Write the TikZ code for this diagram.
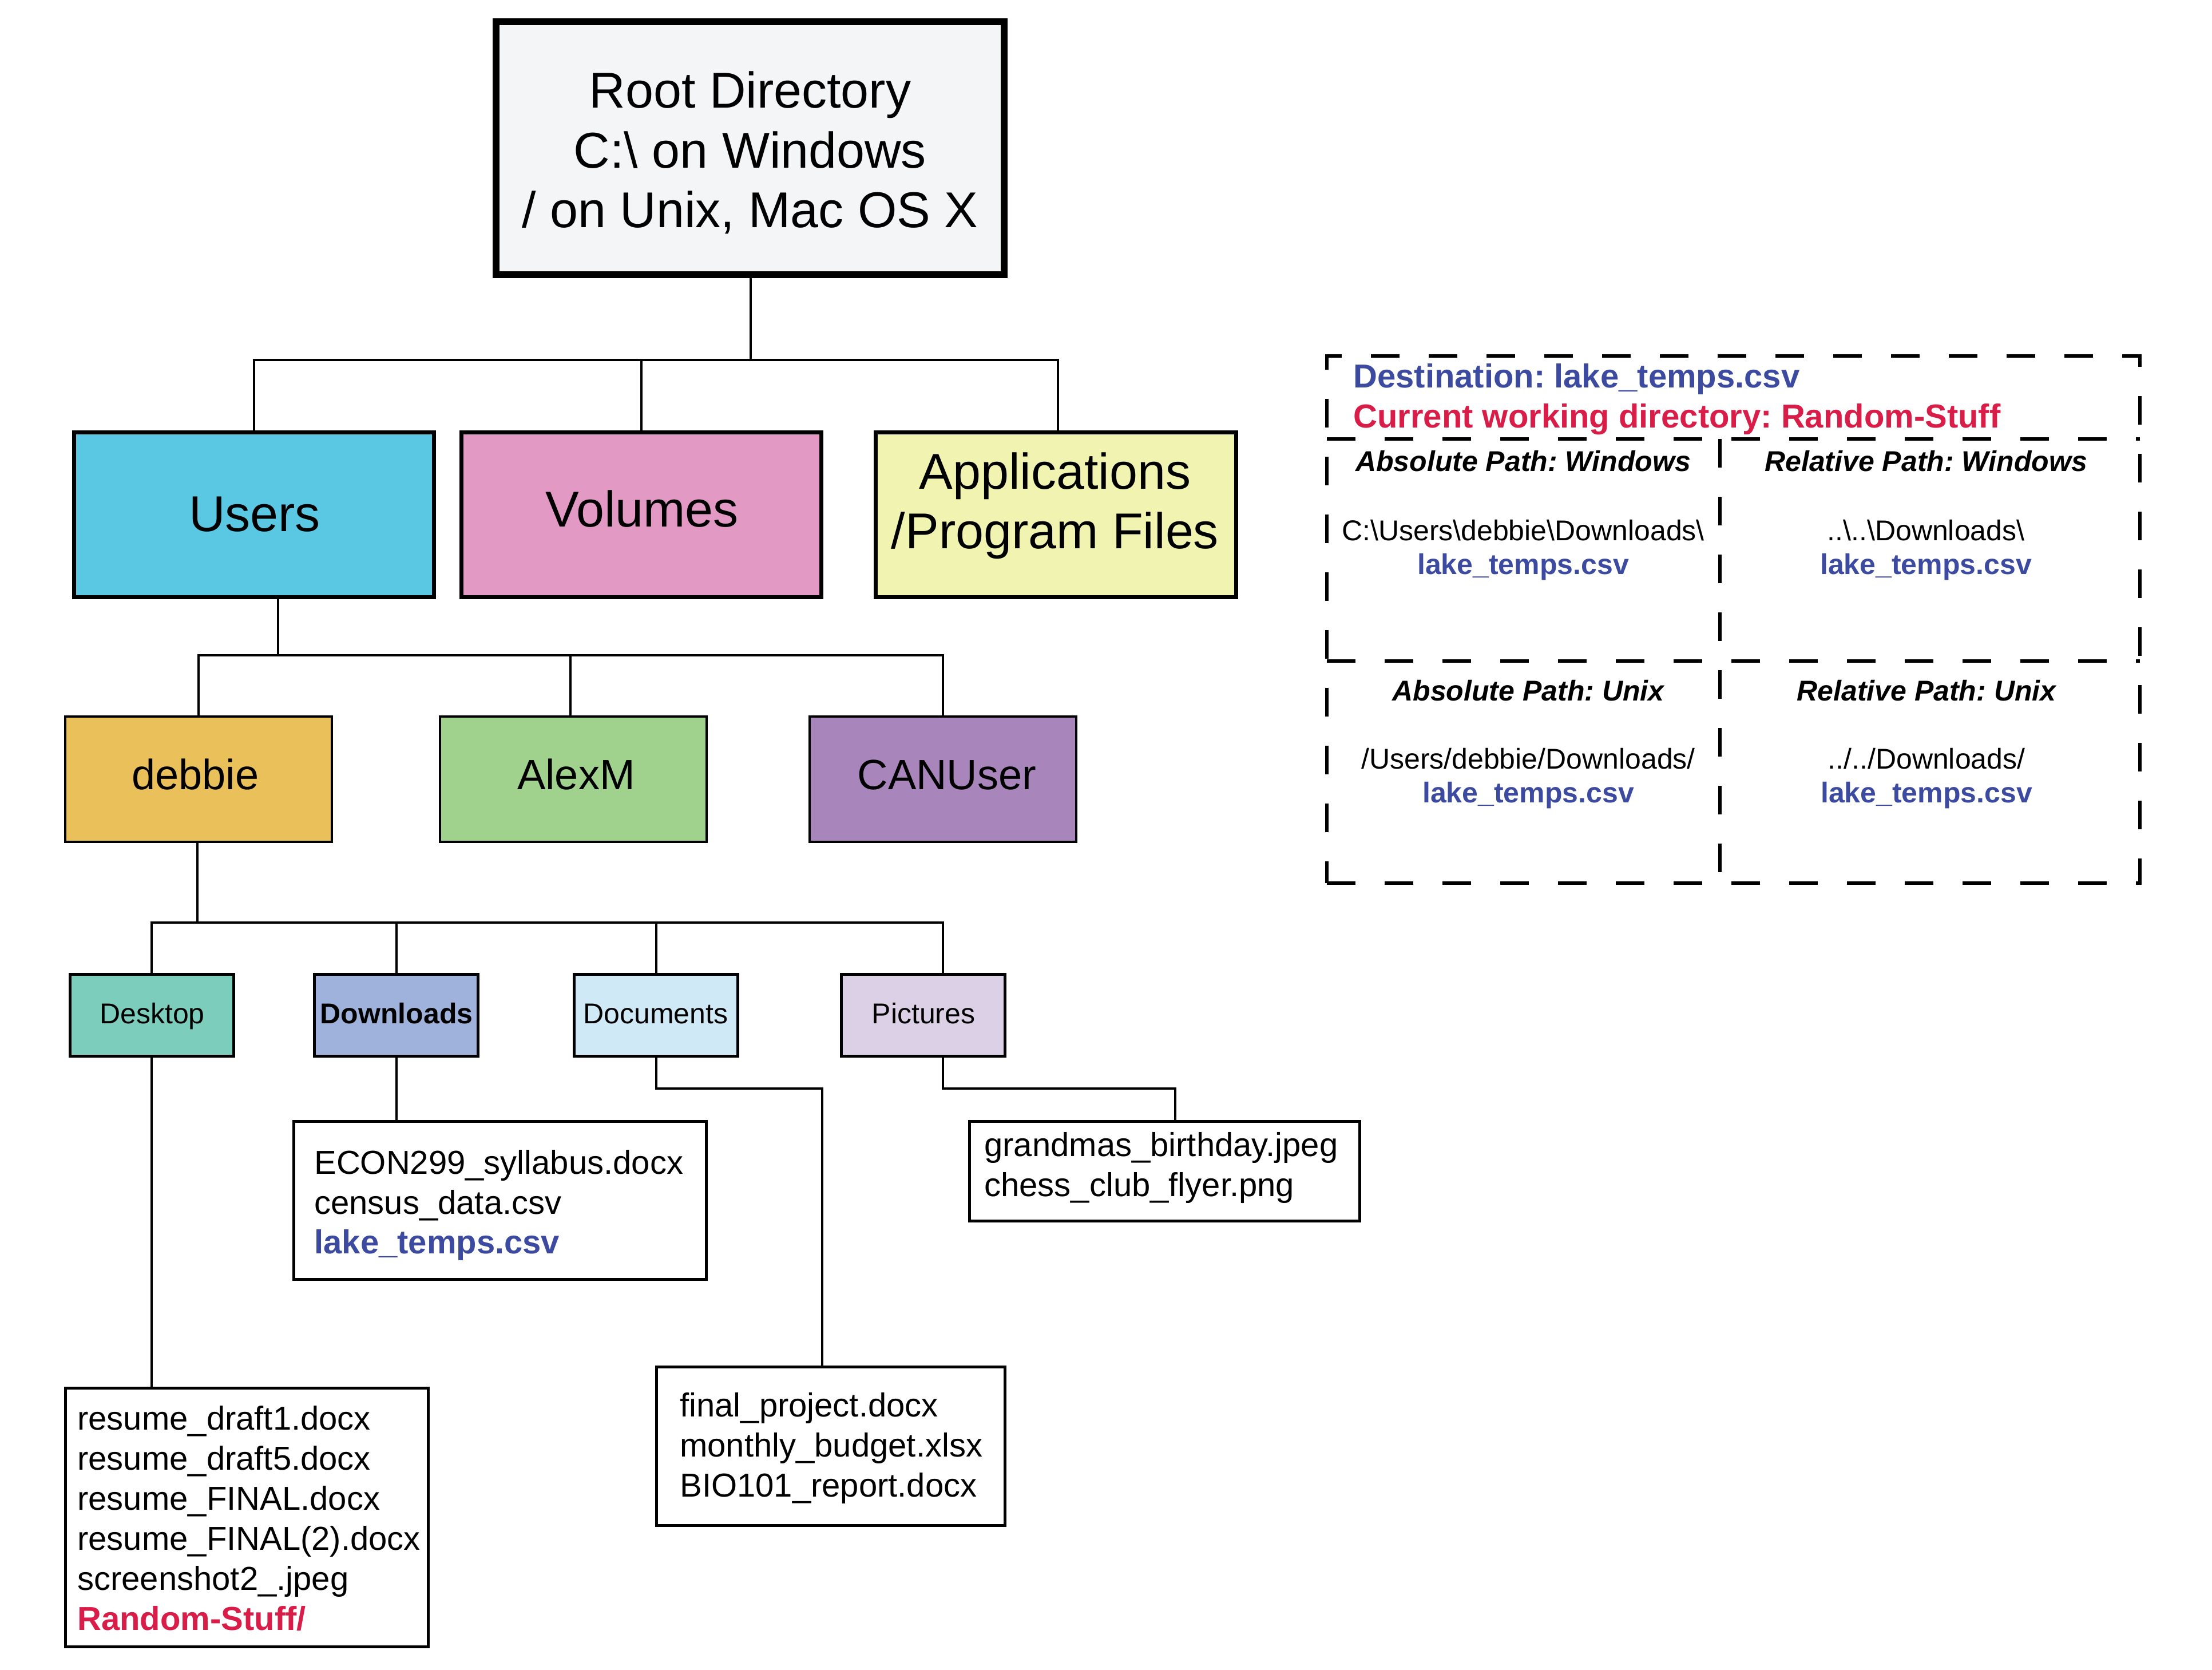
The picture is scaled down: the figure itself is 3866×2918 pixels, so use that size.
\documentclass[tikz,border=0pt]{standalone}
\usepackage{fontspec}
\setmainfont{Liberation Sans}
\usetikzlibrary{calc}
\frenchspacing
\definecolor{croot}{HTML}{F4F5F7}
\definecolor{cusers}{HTML}{5BC8E3}
\definecolor{cvol}{HTML}{E29AC4}
\definecolor{capp}{HTML}{F1F4B0}
\definecolor{cdeb}{HTML}{E9C05A}
\definecolor{calex}{HTML}{A1D28D}
\definecolor{ccan}{HTML}{A886BB}
\definecolor{cdesk}{HTML}{7DCDBD}
\definecolor{cdown}{HTML}{9FB2DC}
\definecolor{cdoc}{HTML}{CFE9F7}
\definecolor{cpic}{HTML}{DCD0E6}
\definecolor{tblue}{HTML}{3C4BA0}
\definecolor{tred}{HTML}{D81E48}
\newcommand\fszA{\fontsize{44pt}{52pt}\selectfont}
\newcommand\fszB{\fontsize{37pt}{44pt}\selectfont}
\newcommand\fszC{\fontsize{29pt}{35pt}\selectfont}
\newcommand\fszD{\fontsize{25pt}{30pt}\selectfont}
\begin{document}
\frenchspacing
\begin{tikzpicture}[x=0.5pt,y=-0.5pt,
  box/.style={draw=black, rectangle, inner sep=0pt, outer sep=0pt},
  rootbox/.style={box, line width=6pt, fill=croot, minimum width=444pt, minimum height=221pt},
  lvla/.style={box, line width=3.5pt, minimum width=314.5pt, minimum height=144pt},
  lvlb/.style={box, line width=2pt, minimum width=233pt, minimum height=109.5pt},
  lvlc/.style={box, line width=2.5pt, minimum width=143pt, minimum height=71.5pt},
  filebox/.style={box, line width=2.5pt, fill=white},
  conn/.style={draw=black, line width=2pt},
  dsh/.style={draw=black, line width=3.2pt, dash pattern=on 25pt off 25.5pt},
  txt/.style={inner sep=0pt, anchor=base},
  ltxt/.style={inner sep=0pt, anchor=base west},
  blu/.style={text=tblue, font=\fszC\bfseries},
  hdr/.style={txt, font=\fszD\bfseries\itshape},
  pth/.style={txt, font=\fszD},
  lake/.style={txt, font=\fszD\bfseries, text=tblue}]
\useasboundingbox (0,0) rectangle (3866,2918);

% ---------- boxes ----------
\node[rootbox] (root) at (1311,259) {};
\node[lvla, fill=cusers] (users) at (444,899.5) {};
\node[lvla, fill=cvol] (vols) at (1121.25,899.5) {};
\node[lvla, fill=capp, minimum width=315pt] (apps) at (1845.5,899.5) {};
\node[lvlb, fill=cdeb] (debbie) at (346.75,1361.5) {};
\node[lvlb, fill=calex] (alexm) at (1001.5,1361.5) {};
\node[lvlb, fill=ccan] (canuser) at (1648,1361) {};
\node[lvlc, fill=cdesk] (desktop) at (265,1774) {};
\node[lvlc, fill=cdown] (downloads) at (692.5,1774) {};
\node[lvlc, fill=cdoc] (documents) at (1146.5,1774) {};
\node[lvlc, fill=cpic] (pictures) at (1613.5,1774) {};
\node[filebox, minimum width=317pt, minimum height=226pt] (deskfiles) at (431.5,2651.5) {};
\node[filebox, minimum width=360.5pt, minimum height=138pt] (downfiles) at (874,2097.5) {};
\node[filebox, minimum width=304.5pt, minimum height=138.5pt] (docfiles) at (1452,2527) {};
\node[filebox, minimum width=341pt, minimum height=87pt] (picfiles) at (2035.5,2046.5) {};

% ---------- connectors ----------
\coordinate (bus1) at (1312,629);
\coordinate (bus2) at (486,1145);
\coordinate (bus3) at (345,1612);
\coordinate (bus4) at (0,1902);
\coordinate (picx) at (1647.5,0);
\coordinate (docx) at (1437,0);
\coordinate (picfx) at (2054,0);
\coordinate (appx) at (1849,0);
\coordinate (alexx) at (997,0);
\draw[conn] (root.south -| bus1) -- (bus1);
\draw[conn] (users.north) |- (appx |- bus1) -- (appx |- apps.north);
\draw[conn] (vols.north) -- (vols.north |- bus1);
\draw[conn] (users.south -| bus2) -- (bus2);
\draw[conn] (debbie.north) |- (canuser.north |- bus2) -- (canuser.north);
\draw[conn] (alexx |- alexm.north) -- (alexx |- bus2);
\draw[conn] (debbie.south -| bus3) -- (bus3);
\draw[conn] (desktop.north) |- (picx |- bus3) -- (picx |- pictures.north);
\draw[conn] (downloads.north) -- (downloads.north |- bus3);
\draw[conn] (documents.north) -- (documents.north |- bus3);
\draw[conn] (desktop.south) -- (desktop.south |- deskfiles.north);
\draw[conn] (downloads.south) -- (downloads.south |- downfiles.north);
\draw[conn] (documents.south) |- (docx |- bus4) -- (docx |- docfiles.north);
\draw[conn] (picx |- pictures.south) |- (picfx |- bus4) -- (picfx |- picfiles.north);

% ---------- box texts ----------
\node[txt, font=\fszA] (root1) at (1311,188) {Root Directory};
\node[txt, font=\fszA] (root2) at (1311,293) {C:\textbackslash\ on Windows};
\node[txt, font=\fszA] (root3) at (1311,397) {/ on Unix, Mac OS X};
\node[txt, font=\fszA] (userst) at (445,928) {Users};
\node[txt, font=\fszA] (volst) at (1122,920) {Volumes};
\node[txt, font=\fszA] (apps1) at (1844,854) {Applications};
\node[txt, font=\fszA] (apps2) at (1844,958) {/Program Files};
\node[txt, font=\fszB] (debt) at (341.5,1379) {debbie};
\node[txt, font=\fszB] (alext) at (1007,1379) {AlexM};
\node[txt, font=\fszB] (cant) at (1655,1379) {CANUser};
\node[txt, font=\fszD] (deskt) at (266,1788) {Desktop};
\node[txt, font=\fszD\bfseries] (downt) at (693,1788) {Downloads};
\node[txt, font=\fszD] (doct) at (1146,1788) {Documents};
\node[txt, font=\fszD] (pict) at (1614,1788) {Pictures};

% ---------- file lists ----------
\node[ltxt, font=\fszC] (dk1) at (135,2498) {resume\_draft1.docx};
\node[ltxt, font=\fszC] (dk2) at (135,2568) {resume\_draft5.docx};
\node[ltxt, font=\fszC] (dk3) at (135,2638) {resume\_FINAL.docx};
\node[ltxt, font=\fszC] (dk4) at (135,2708) {resume\_FINAL(2).docx};
\node[ltxt, font=\fszC] (dk5) at (135,2778) {screenshot2\_.jpeg};
\node[ltxt, font=\fszC\bfseries, text=tred] (dk6) at (135,2848) {Random-Stuff/};

\node[ltxt, font=\fszC] (dl1) at (549,2051) {ECON299\_syllabus.docx};
\node[ltxt, font=\fszC] (dl2) at (549,2121) {census\_data.csv};
\node[ltxt, blu] (dl3) at (549,2190) {lake\_temps.csv};

\node[ltxt, font=\fszC] (dc1) at (1188,2475) {final\_project.docx};
\node[ltxt, font=\fszC] (dc2) at (1188,2545) {monthly\_budget.xlsx};
\node[ltxt, font=\fszC] (dc3) at (1188,2615) {BIO101\_report.docx};

\node[ltxt, font=\fszC] (pc1) at (1720,2020) {grandmas\_birthday.jpeg};
\node[ltxt, font=\fszC] (pc2) at (1720,2090) {chess\_club\_flyer.png};

% ---------- dashed path panel ----------
\node[box, dsh, minimum width=710.5pt, minimum height=460.5pt] (dbox) at (3029.5,1082.5) {};
\coordinate (h1) at (0,767);
\coordinate (h2) at (0,1155);
\coordinate (vx) at (3006,0);
\draw[dsh] (dbox.west |- h1) -- (dbox.east |- h1);
\draw[dsh] (dbox.west |- h2) -- (dbox.east |- h2);
\draw[dsh] (vx |- h1) -- (vx |- dbox.south);

\node[ltxt, blu] (dest) at (2365,677) {Destination: lake\_temps.csv};
\node[ltxt, font=\fszC\bfseries, text=tred] (cwd) at (2365,747) {Current working directory: Random-Stuff};

\node[hdr] (aw) at (2662,823) {Absolute Path: Windows};
\node[hdr] (rw) at (3366,823) {Relative Path: Windows};
\node[pth] (awp) at (2662,944) {C:\textbackslash Users\textbackslash debbie\textbackslash Downloads\textbackslash};
\node[lake] (awl) at (2662,1003) {lake\_temps.csv};
\node[pth] (rwp) at (3366,944) {..\textbackslash..\textbackslash Downloads\textbackslash};
\node[lake] (rwl) at (3366,1003) {lake\_temps.csv};

\node[hdr] (au) at (2671,1224) {Absolute Path: Unix};
\node[hdr] (ru) at (3367,1224) {Relative Path: Unix};
\node[pth] (aup) at (2671,1343) {/Users/debbie/Downloads/};
\node[lake] (aul) at (2671,1402) {lake\_temps.csv};
\node[pth] (rup) at (3367,1343) {../../Downloads/};
\node[lake] (rul) at (3367,1402) {lake\_temps.csv};
\end{tikzpicture}
\end{document}
